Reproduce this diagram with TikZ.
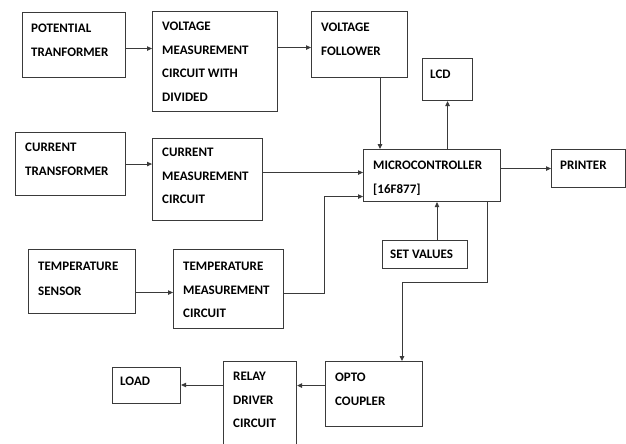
\documentclass[tikz,border=0pt]{standalone}
\usepackage{fontspec}
\setmainfont{Carlito}
\usetikzlibrary{arrows.meta,calc}
\definecolor{ln}{HTML}{3A3A3A}
\tikzset{
  blk/.style={draw=ln,line width=1.1pt,rectangle,inner sep=0pt,anchor=north west},
  txt/.style={inner sep=0pt,anchor=north west,align=left,text=black,
     font=\fontsize{13}{23.5}\selectfont\bfseries},
  arr/.style={draw=ln,line width=0.9pt,-{Triangle[length=5pt,width=4.5pt]}},
  ln/.style={draw=ln,line width=0.9pt}
}
\begin{document}
\begin{tikzpicture}[x=1pt,y=-1pt]
\useasboundingbox (0,0) rectangle (626,444);
\clip (0,0) rectangle (626,444);
\fill[white] (0,0) rectangle (626,444);
% boxes
\node[blk,minimum width=103pt,minimum height=65pt] (pt) at (22,12) {};
\node[blk,minimum width=125pt,minimum height=100pt] (vm) at (152,11) {};
\node[blk,minimum width=96pt,minimum height=66pt] (vf) at (311,11) {};
\node[blk,minimum width=50pt,minimum height=42pt] (lcd) at (422,58) {};
\node[blk,minimum width=110pt,minimum height=63pt] (ct) at (15,132) {};
\node[blk,minimum width=110pt,minimum height=82pt] (cm) at (152,138) {};
\node[blk,minimum width=137pt,minimum height=52pt] (mc) at (363,149) {};
\node[blk,minimum width=74pt,minimum height=38pt] (pr) at (551,149) {};
\node[blk,minimum width=85pt,minimum height=28pt] (sv) at (382,240) {};
\node[blk,minimum width=107pt,minimum height=64pt] (ts) at (28,249) {};
\node[blk,minimum width=110pt,minimum height=79pt] (tm) at (173,249) {};
\node[blk,minimum width=68pt,minimum height=36pt] (ld) at (112,367) {};
\node[blk,minimum width=73pt,minimum height=100pt] (rd) at (223,361) {};
\node[blk,minimum width=97pt,minimum height=65pt] (oc) at (325,361) {};
% texts
\node[txt] (tpt) at (31,24) {POTENTIAL\\TRANFORMER};
\node[txt] (tvm) at (162,22) {VOLTAGE\\MEASUREMENT\\CIRCUIT WITH\\DIVIDED};
\node[txt] (tvf) at (321,23) {VOLTAGE\\FOLLOWER};
\node[txt] (tlcd) at (430,70) {LCD};
\node[txt] (tct) at (25,143) {CURRENT\\TRANSFORMER};
\node[txt] (tcm) at (162,148) {CURRENT\\MEASUREMENT\\CIRCUIT};
\node[txt] (tmc) at (373,161) {MICROCONTROLLER\\{[16F877]}};
\node[txt] (tpr) at (560,161) {PRINTER};
\node[txt] (tsv) at (390,250) {SET VALUES};
\node[txt,font=\fontsize{13}{25}\selectfont\bfseries] (tts) at (38,262) {TEMPERATURE\\SENSOR};
\node[txt] (ttm) at (183,262) {TEMPERATURE\\MEASUREMENT\\CIRCUIT};
\node[txt] (tld) at (120,377) {LOAD};
\node[txt] (trd) at (233,372) {RELAY\\DRIVER\\CIRCUIT};
\node[txt] (toc) at (335,373) {OPTO\\COUPLER};
% coordinates
\coordinate (m1) at ($(mc.north west)+(17,0)$);
\coordinate (m3) at ($(mc.west)+(0,21)$);
\coordinate (m4) at ($(mc.south west)+(74,0)$);
\coordinate (m5) at ($(mc.south west)+(124,0)$);
\coordinate (o1) at ($(oc.north west)+(77,0)$);
% connectors
\draw[arr] ([yshift=-3.5pt]pt.east) -- ([yshift=-3.5pt]pt.east -| vm.west);
\draw[arr] ([yshift=-3pt]vf.west -| vm.east) -- ([yshift=-3pt]vf.west);
\draw[arr] (vf.south -| m1) -- (m1);
\draw[arr] (mc.north -| lcd.south) -- (lcd.south);
\draw[arr] (ct.east) -- (ct.east -| cm.west);
\draw[arr] ([yshift=7pt]cm.east) -- ([yshift=7pt]cm.east -| mc.west);
\draw[arr] ([yshift=-3.5pt]tm.west -| ts.east) -- ([yshift=-3.5pt]tm.west);
\draw[arr] ([yshift=-4.5pt]tm.east) -- ++(40,0) |- (m3);
\draw[arr] (sv.north -| m4) -- (m4);
\draw[arr] (mc.east |- pr.west) -- (pr.west);
\draw[arr] (m5) -- ++(0,80) -| (o1);
\draw[arr] ([yshift=8.5pt]oc.west) -- ([yshift=8.5pt]oc.west -| rd.east);
\draw[arr] ([yshift=-24pt]rd.north west) -- ([yshift=-24pt]rd.north west -| ld.east);
\end{tikzpicture}
\end{document}
